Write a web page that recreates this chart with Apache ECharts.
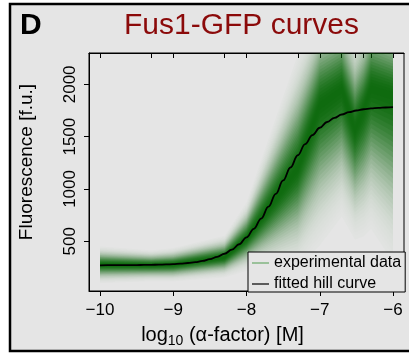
<!DOCTYPE html>
<html>
<head>
<meta charset="utf-8">
<script src="https://cdn.jsdelivr.net/npm/echarts@6/dist/echarts.min.js"></script>
<style>html,body{margin:0;padding:0;background:#fff;}#c{width:409px;height:354px;}</style>
</head>
<body>
<div id="c"></div>
<script>
// ---- data ----
const expX      = [-10, -9.3, -9, -8.3, -8, -7.3, -7, -6.7, -6.52, -6.4, -6.3, -6];
const expMid    = [275, 270, 275, 345, 520, 1200, 1800, 1950, 1570, 1760, 1960, 1900];
const expSdLow  = [55, 48, 50, 60, 95, 300, 420, 380, 330, 380, 420, 500];
const expSdHigh = [55, 45, 50, 65, 110, 340, 310, 290, 300, 290, 290, 270];

const hillX = [-10,-9.9,-9.8,-9.7,-9.6,-9.5,-9.4,-9.3,-9.2,-9.1,-9,-8.9,-8.8,-8.7,-8.6,-8.5,-8.4,-8.3,-8.2,-8.1,-8,-7.9,-7.8,-7.7,-7.6,-7.5,-7.4,-7.3,-7.2,-7.1,-7,-6.9,-6.8,-6.7,-6.6,-6.5,-6.4,-6.3,-6.2,-6.1,-6];
const hillY = [270,271,271,271,271,272,273,274,276,278,281,286,292,300,312,328,350,380,419,471,537,619,717,830,953,1081,1205,1322,1428,1515,1585,1640,1680,1712,1734,1750,1762,1770,1775,1779,1782];

const xTicks = [-10, -9, -8, -7, -6];
const yTicks = [500, 1000, 1500, 2000];
const seriesNames = ['experimental data', 'fitted hill curve'];

// ---- styling ----
const FONT = '"Liberation Sans", Arial, Helvetica, sans-serif';
const BG = '#e5e5e5';
const GREEN = '#006400';
const minus = v => String(v).replace('-', '\u2212');

// density-like shading: many nested bands (in units of spread) around the experimental centre
const K = 32, STEP = 0.1;
const T = z => 0.92 * Math.exp(-z * z / 2.5);
const bandLevels = [];
for (let i = K; i >= 1; i--) {
  const k = i * STEP;
  const Ti = T(k - STEP / 2);
  const Tn = i < K ? T(k + STEP / 2) : 0;
  bandLevels.push({ k: k, a: 1 - (1 - Ti) / (1 - Tn) });
}

function renderBand(params, api) {
  const lv = bandLevels[api.value(2)];
  const pts = [];
  for (let j = 0; j < expX.length; j++) pts.push(api.coord([expX[j], expMid[j] + lv.k * expSdHigh[j]]));
  for (let j = expX.length - 1; j >= 0; j--) pts.push(api.coord([expX[j], expMid[j] - lv.k * expSdLow[j]]));
  const cs = params.coordSys;
  return {
    type: 'group',
    clipPath: { type: 'rect', shape: { x: cs.x, y: cs.y, width: cs.width, height: cs.height } },
    children: [{ type: 'polygon', shape: { points: pts }, style: { fill: GREEN, opacity: lv.a } }]
  };
}

const chart = echarts.init(document.getElementById('c'), null, { renderer: 'canvas' });
chart.setOption({
  animation: false,
  backgroundColor: '#fff',
  textStyle: { fontFamily: FONT },
  graphic: [{
    type: 'rect', z: -100,
    shape: { x: 10, y: 4, width: 420, height: 347 },
    style: { fill: BG, stroke: '#000', lineWidth: 2.5 }
  }],
  title: [
    { text: 'D', left: 20, top: 11, padding: 0,
      textStyle: { fontSize: 30, fontWeight: 'bold', color: '#000', lineHeight: 30, fontFamily: FONT } },
    { text: 'Fus1-GFP curves', left: 124, top: 11, padding: 0,
      textStyle: { fontSize: 30, fontWeight: 'normal', color: '#8b0a0a', lineHeight: 30, fontFamily: FONT } }
  ],
  grid: { left: 89, top: 53, width: 315, height: 238, show: true, borderColor: '#000', borderWidth: 1, backgroundColor: 'transparent' },
  legend: {
    data: [
      { name: seriesNames[0], icon: 'rect', itemStyle: { color: '#68a868' } },
      { name: seriesNames[1], icon: 'rect', itemStyle: { color: '#000' } }
    ],
    orient: 'vertical', left: 248, top: 252,
    itemWidth: 17, itemHeight: 1.2, itemGap: 5,
    padding: [3, 4, 0, 4],
    borderColor: '#000', borderWidth: 1, borderRadius: 0,
    backgroundColor: BG, selectedMode: false,
    textStyle: { fontSize: 16, color: '#000', fontFamily: FONT, lineHeight: 16 }
  },
  xAxis: [{
    type: 'value', min: -10.15, max: -5.85, position: 'bottom',
    splitLine: { show: false },
    axisLine: { show: true, onZero: false, lineStyle: { color: '#000', width: 1 } },
    axisTick: { show: true, length: 5, customValues: xTicks, lineStyle: { color: '#000' } },
    axisLabel: { show: true, customValues: xTicks, margin: 11, fontSize: 17, color: '#000', lineHeight: 17, fontFamily: FONT, formatter: minus },
    name: '{a|log}{s|10}{a| (\u03b1-factor) [M]}',
    nameLocation: 'middle', nameGap: 33,
    nameTextStyle: {
      padding: [0, 48, 0, 0],
      rich: {
        a: { fontSize: 20, color: '#000', fontFamily: FONT, lineHeight: 22 },
        s: { fontSize: 14, color: '#000', fontFamily: FONT, lineHeight: 22, padding: [10, 0, 0, 0] }
      }
    }
  }, {
    type: 'value', min: -10.15, max: -5.85, position: 'top',
    splitLine: { show: false },
    axisLine: { show: true, onZero: false, lineStyle: { color: '#000', width: 1 } },
    axisTick: { show: true, inside: true, length: 5, customValues: expX, lineStyle: { color: '#000' } },
    axisLabel: { show: false }
  }],
  yAxis: {
    type: 'value', min: 24, max: 2300,
    splitLine: { show: false },
    axisLine: { show: true, onZero: false, lineStyle: { color: '#000', width: 1 } },
    axisTick: { show: true, length: 5, customValues: yTicks, lineStyle: { color: '#000' } },
    axisLabel: { show: true, customValues: yTicks, rotate: 90, margin: 10, fontSize: 17, color: '#000', lineHeight: 17, fontFamily: FONT, formatter: v => String(v) },
    name: 'Fluorescence [f.u.]', nameLocation: 'middle', nameRotate: 90, nameGap: 53,
    nameTextStyle: { fontSize: 19, color: '#000', fontFamily: FONT, lineHeight: 19, padding: [0, 0, 0, 20] }
  },
  series: [{
    type: 'custom', name: seriesNames[0], silent: true, z: 2,
    renderItem: renderBand,
    encode: { x: 0, y: 1 },
    data: bandLevels.map((lv, i) => [-8, 1000, i])
  }, {
    type: 'line', name: seriesNames[1], xAxisIndex: 0,
    data: hillX.map((x, i) => [x, hillY[i]]),
    symbol: 'none', smooth: 0.4, smoothMonotone: 'x', z: 5,
    lineStyle: { color: '#000', width: 1.8 }
  }]
});
</script>
</body>
</html>
